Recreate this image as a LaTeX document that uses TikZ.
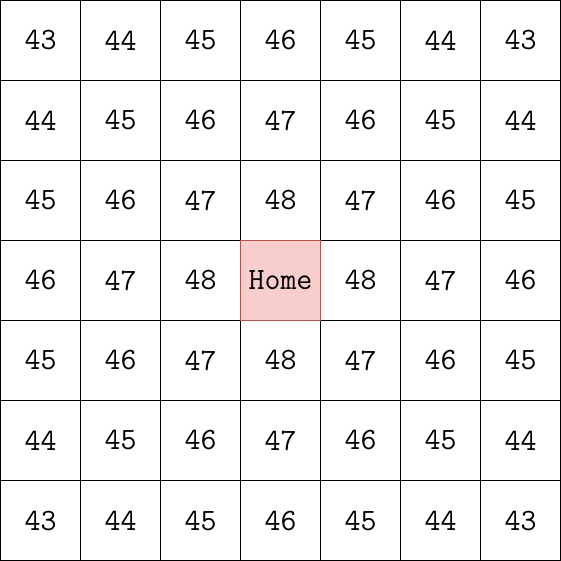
\documentclass[tikz,border=0pt]{standalone}
\definecolor{homefill}{HTML}{F8CECC}
\definecolor{homeline}{HTML}{B85450}
\begin{document}
\begin{tikzpicture}[x=1pt,y=1pt,
  cell/.style={draw=black,line width=1pt,minimum size=80pt,inner sep=0pt,outer sep=0pt,font=\ttfamily\fontsize{31}{31}\selectfont},
  homecell/.style={cell,fill=homefill,draw=homeline}]
\useasboundingbox (0,0) rectangle (561,561);
\foreach \i in {0,...,6}{
  \foreach \j in {0,...,6}{
    \pgfmathtruncatemacro{\dx}{abs(\i-3)}
    \pgfmathtruncatemacro{\dy}{abs(\j-3)}
    \pgfmathtruncatemacro{\val}{49-\dx-\dy}
    \ifnum\dx=0 \ifnum\dy=0 \else
      \node[cell] (c-\i-\j) at (40.5+80*\i,520.5-80*\j) {\val};
    \fi\else
      \node[cell] (c-\i-\j) at (40.5+80*\i,520.5-80*\j) {\val};
    \fi
  }
}
\node[homecell] (home) at (280.5,280.5) {Home};
\end{tikzpicture}
\end{document}
